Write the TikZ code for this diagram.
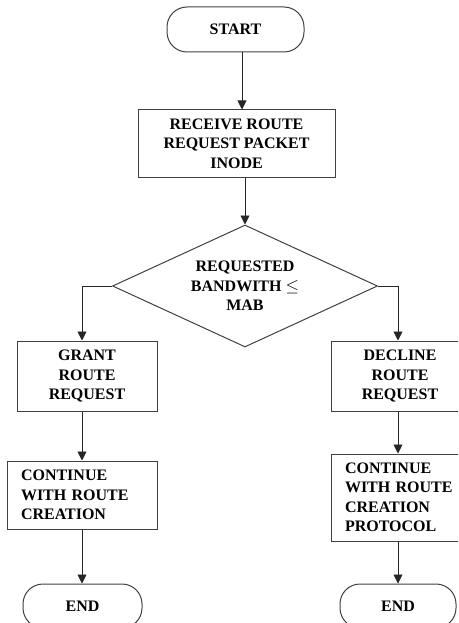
\documentclass[tikz,border=0pt]{standalone}
\usepackage{fontspec}
\setmainfont{Liberation Serif}
\usetikzlibrary{shapes.geometric,arrows.meta}

\tikzset{
  term/.style={draw=black!75, line width=1pt, rounded corners=20pt, minimum width=119pt, minimum height=44pt},
  proc/.style={draw=black!75, line width=1pt, align=center},
  cond/.style={draw=black!75, line width=1pt, diamond, aspect=2.2, align=center, inner sep=0pt},
  flow/.style={draw=black!85, line width=0.9pt, -{Triangle[width=9pt,length=9pt]}}
}

\begin{document}
\begin{tikzpicture}[x=1pt, y=-1pt, every node/.style={font=\fontsize{16}{19.5}\selectfont\bfseries}]
    \useasboundingbox (0,0) rectangle (458,623);
    \clip (0,0) rectangle (458,623);
    \coordinate (axis) at (242,0);
    \node[term, minimum width=137pt, minimum height=45pt] (start) at (235.5,29.5) {START};
    \node[proc, minimum width=197pt, minimum height=67pt] (recv) at (236.5,143.5) {RECEIVE ROUTE\\REQUEST PACKET\\INODE};
    \node[cond, minimum width=265pt, minimum height=122pt] (check) at (245,286) {REQUESTED\\BANDWITH $\leq$\\MAB};
    \node[proc, minimum width=140pt, minimum height=70pt] (grant) at (87,376) {GRANT\\ROUTE\\REQUEST};
    \node[proc, minimum width=138pt, minimum height=70pt] (decline) at (400,376) {DECLINE\\ROUTE\\REQUEST};
    \node[proc, align=left, text width=122pt, inner xsep=14pt, minimum height=68pt] (cont1) at (82,495) {CONTINUE\\WITH ROUTE\\CREATION};
    \node[proc, align=left, text width=122pt, inner xsep=14pt, minimum height=87pt] (cont2) at (406,497.5) {CONTINUE\\WITH ROUTE\\CREATION\\PROTOCOL};
    \node[term] (end1) at (82.5,606) {END};
    \node[term, minimum width=116pt] (end2) at (398,606) {END};
    \draw[flow] (start.south -| axis) -- (recv.north -| axis);
    \draw[flow] (recv.south -| check.north) -- (check.north);
    \draw[flow] (check.west) -| (grant.north -| cont1.north);
    \draw[flow] (check.east) -| (decline.north -| end2.north);
    \draw[flow] (grant.south -| cont1.north) -- (cont1.north);
    \draw[flow] (decline.south -| end2.north) -- (cont2.north -| end2.north);
    \draw[flow] (cont1.south) -- (cont1.south |- end1.north);
    \draw[flow] (cont2.south -| end2.north) -- (end2.north);
\end{tikzpicture}
\end{document}
